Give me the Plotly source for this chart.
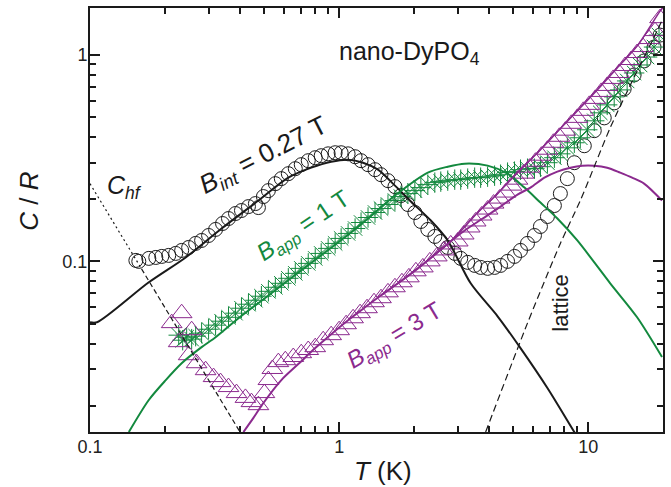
import numpy as np
import plotly.graph_objects as go

# ---------------- data ----------------
# open circles: B_int = 0.27 T
T_circ = [0.1528, 0.1570, 0.1722, 0.1837, 0.1941, 0.2070, 0.2208, 0.2333, 0.2489, 0.2655,
          0.2805, 0.2992, 0.3192, 0.3404, 0.3597, 0.3837, 0.4055, 0.4325, 0.4613, 0.4742,
          0.4966, 0.5200, 0.5546, 0.5861, 0.6252, 0.6668, 0.7047, 0.7516, 0.8017, 0.8472,
          0.9036, 0.9638, 1.0186, 1.0864, 1.1588, 1.2246, 1.3062, 1.3932, 1.4723, 1.5704,
          1.6749, 1.7701, 1.8880, 2.0137, 2.1281, 2.2699, 2.4210, 2.5586, 2.7290, 2.9107,
          3.0761, 3.2810, 3.4995, 3.6983, 3.9446, 4.2073, 4.4463, 4.7424, 5.0582, 5.3456,
          5.7016, 6.0814, 6.4269, 6.8549, 7.3114, 7.7268, 8.2414, 8.7902, 9.6383, 10.568,
          11.588, 12.706, 13.932, 15.276, 16.749, 18.365, 19.409]
C_circ = [0.1011, 0.1000, 0.1034, 0.1045, 0.1057, 0.1069, 0.1093, 0.1130, 0.1168, 0.1222,
          0.1263, 0.1335, 0.1428, 0.1526, 0.1613, 0.1706, 0.1764, 0.1843, 0.1906, 0.1823,
          0.2061, 0.2203, 0.2381, 0.2518, 0.2661, 0.2813, 0.2942, 0.3076, 0.3180, 0.3252,
          0.3320, 0.3361, 0.3361, 0.3320, 0.3215, 0.3076, 0.2942, 0.2782, 0.2631, 0.2462,
          0.2303, 0.2084, 0.1886, 0.1725, 0.1561, 0.1428, 0.1321, 0.1249, 0.1168, 0.1093,
          0.1034, 0.0989, 0.0956, 0.0935, 0.0925, 0.0935, 0.0956, 0.1000, 0.1057, 0.1130,
          0.1222, 0.1335, 0.1476, 0.1650, 0.1865, 0.2131, 0.2518, 0.3008, 0.3634, 0.4300,
          0.4960, 0.5862, 0.6850, 0.8006, 0.9360, 1.0930, 1.2490]

# stars: B_app = 1 T
T_star = [0.2270, 0.2355, 0.2443, 0.2559, 0.2655, 0.2805, 0.2992, 0.3192, 0.3373, 0.3597,
          0.3837, 0.4055, 0.4325, 0.4613, 0.4875, 0.5200, 0.5546, 0.5861, 0.6252, 0.6668,
          0.7047, 0.7516, 0.8017, 0.8472, 0.9036, 0.9638, 1.0186, 1.0864, 1.1588, 1.2246,
          1.3062, 1.3932, 1.4723, 1.5704, 1.6749, 1.7701, 1.8880, 2.0137, 2.1281, 2.2699,
          2.4210, 2.5586, 2.7290, 2.9107, 3.0761, 3.2810, 3.4995, 3.6983, 3.9446, 4.2073,
          4.4463, 4.7424, 5.0582, 5.3456, 5.7016, 6.0814, 6.4269, 6.8549, 7.3114, 7.7268,
          8.2414, 8.7902, 9.2897, 9.9083, 10.568, 11.169, 11.912, 12.706, 13.428, 14.322,
          15.276, 16.144, 17.219, 18.365, 19.230]
C_star = [0.0439, 0.0415, 0.0429, 0.0420, 0.0434, 0.0449, 0.0469, 0.0491, 0.0513, 0.0536,
          0.0561, 0.0593, 0.0620, 0.0648, 0.0678, 0.0716, 0.0749, 0.0783, 0.0828, 0.0875,
          0.0925, 0.0978, 0.1034, 0.1093, 0.1156, 0.1222, 0.1292, 0.1366, 0.1443, 0.1543,
          0.1632, 0.1725, 0.1803, 0.1886, 0.1971, 0.2061, 0.2131, 0.2203, 0.2278, 0.2355,
          0.2408, 0.2435, 0.2462, 0.2489, 0.2489, 0.2518, 0.2545, 0.2545, 0.2573, 0.2602,
          0.2631, 0.2692, 0.2722, 0.2782, 0.2813, 0.2813, 0.2876, 0.3008, 0.3180, 0.3320,
          0.3550, 0.3757, 0.3972, 0.4342, 0.4800, 0.5246, 0.5734, 0.6268, 0.6776, 0.7488,
          0.8185, 0.8949, 0.9780, 1.0930, 1.2490]

# open triangles: B_app = 3 T
T_tri = [0.2128, 0.2333, 0.2559, 0.2270, 0.2489, 0.2679, 0.2911, 0.3133, 0.3342, 0.3597,
         0.3873, 0.4207, 0.4446, 0.4742, 0.5012, 0.5200, 0.5395, 0.5702, 0.6081, 0.6546,
         0.7047, 0.7516, 0.8017, 0.8630, 0.9290, 1.0000, 1.0666, 1.1376, 1.2134, 1.2942,
         1.3804, 1.4723, 1.5704, 1.6749, 1.7865, 1.9055, 2.0324, 2.1677, 2.3121, 2.4660,
         2.6303, 2.8054, 2.9923, 3.1623, 3.3420, 3.5318, 3.7325, 3.9446, 4.1687, 4.4055,
         4.6559, 4.9204, 5.2000, 5.4954, 5.8076, 6.1376, 6.4863, 6.8549, 7.2444, 7.6560,
         8.0910, 8.5507, 9.0365, 9.5499, 10.093, 10.666, 11.272, 11.912, 12.589, 13.305,
         14.060, 14.859, 15.704, 16.596, 17.539, 18.535, 19.409]
C_tri = [0.0502, 0.0561, 0.0464, 0.0406, 0.0351, 0.0321, 0.0297, 0.0275, 0.0260, 0.0246,
         0.0230, 0.0218, 0.0208, 0.0201, 0.0230, 0.0266, 0.0301, 0.0325, 0.0332, 0.0344,
         0.0359, 0.0372, 0.0384, 0.0415, 0.0439, 0.0464, 0.0496, 0.0530, 0.0561, 0.0593,
         0.0634, 0.0663, 0.0708, 0.0749, 0.0792, 0.0837, 0.0895, 0.0935, 0.1000, 0.1057,
         0.1130, 0.1208, 0.1249, 0.1350, 0.1460, 0.1561, 0.1668, 0.1783, 0.1906, 0.2015,
         0.2155, 0.2329, 0.2489, 0.2661, 0.2845, 0.3041, 0.3252, 0.3476, 0.3757, 0.4016,
         0.4300, 0.4642, 0.4960, 0.5364, 0.5734, 0.6129, 0.6626, 0.7083, 0.7660, 0.8185,
         0.8849, 0.9459, 1.0226, 1.0930, 1.1950, 1.3060, 1.5090]

# model curves
T_fit_int = [0.1, 0.1067, 0.1722, 0.2421, 0.3373, 0.4742, 0.6252, 0.7727, 0.929, 1.0864,
             1.2474, 1.4322, 1.6749, 1.9409, 2.3335, 2.729, 3.3729, 4.3251, 5.3456, 6.8549,
             8.7902, 9.908]
C_fit_int = [0.0507, 0.0507, 0.0792, 0.1045, 0.1443, 0.1971, 0.2545, 0.2845, 0.3041, 0.3110,
             0.3008, 0.2782, 0.2329, 0.1950, 0.1578, 0.1263, 0.0783, 0.0542, 0.0380, 0.02435,
             0.0149, 0.01182]

T_fit_1T = [0.1432, 0.1722, 0.2014, 0.2333, 0.2805, 0.3192, 0.3945, 0.5346, 0.7311, 0.9908,
            1.2246, 1.6749, 2.2699, 2.729, 3.1915, 3.9446, 4.7424, 5.546, 6.4269, 7.5162,
            9.0365, 12.246, 15.704, 19.77]
C_fit_1T = [0.0149, 0.0213, 0.0266, 0.0321, 0.0384, 0.0429, 0.0530, 0.0701, 0.0935, 0.1235,
            0.1510, 0.2084, 0.2692, 0.2876, 0.2975, 0.2910, 0.2661, 0.2278, 0.1928, 0.1613,
            0.1263, 0.0783, 0.0536, 0.0344]

T_fit_3T = [0.4130, 0.4529, 0.4966, 0.5861, 0.6855, 0.8017, 0.929, 1.0864, 1.2706, 1.4723,
            1.7219, 2.0701, 2.5586, 3.1915, 3.767, 4.3251, 5.2, 5.8614, 6.6681, 7.5162,
            8.4723, 9.4624, 10.568, 11.912, 13.428, 14.997, 16.749, 19.77]
C_fit_3T = [0.0149, 0.01744, 0.0206, 0.0266, 0.0318, 0.0380, 0.0444, 0.0519, 0.0599, 0.0685,
            0.0783, 0.0925, 0.1143, 0.1412, 0.1613, 0.1803, 0.2107, 0.2278, 0.2545, 0.2722,
            0.2845, 0.2910, 0.2910, 0.2845, 0.2692, 0.2545, 0.2381, 0.1971]

T_tot_3T = [1.4723, 1.7219, 2.0701, 2.4889, 2.9923, 3.5975, 4.3251, 5.2, 6.2517, 7.5162,
            9.0365, 10.864, 13.062, 15.704, 19.409, 20.14]
C_tot_3T = [0.0685, 0.0783, 0.0925, 0.1105, 0.1350, 0.1725, 0.2131, 0.2692, 0.3361, 0.4246,
            0.5364, 0.6776, 0.8660, 1.1050, 1.6320, 1.7250]

T_lat = [3.873, 5.7016, 7.7268, 9.2897, 12.246, 15.704, 18.88, 19.95]
C_lat = [0.0149, 0.0502, 0.1222, 0.1971, 0.444, 0.837, 1.306, 1.509]

T_hf_dot = [0.1, 0.161]
C_hf_dot = [0.238, 0.092]
T_hf_dash = [0.161, 0.4]
C_hf_dash = [0.092, 0.0149]

x_ticks = [0.1, 1, 10]
x_ticktext = ["0.1", "1", "10"]
y_ticks = [0.1, 1]
y_ticktext = ["0.1", "1"]

# ---------------- styling ----------------
BLACK = "#1a1a1a"
GREEN = "#13893e"
PURPLE = "#8b2a8e"
FONT = "Liberation Sans, Arial, sans-serif"

fig = go.Figure()

fig.add_trace(go.Scatter(x=T_circ, y=C_circ, mode="markers",
                         marker=dict(symbol="circle-open", size=14, color=BLACK, line=dict(width=1))))
fig.add_trace(go.Scatter(x=T_star, y=C_star, mode="markers",
                         marker=dict(symbol="asterisk-open", size=17, color=GREEN, line=dict(width=1, color=GREEN))))
fig.add_trace(go.Scatter(x=T_tri, y=C_tri, mode="markers",
                         marker=dict(symbol="triangle-up-open", size=18, color=PURPLE, line=dict(width=1))))

fig.add_trace(go.Scatter(x=T_fit_int, y=C_fit_int, mode="lines",
                         line=dict(color=BLACK, width=2, shape="spline", smoothing=0.8)))
fig.add_trace(go.Scatter(x=T_fit_1T, y=C_fit_1T, mode="lines",
                         line=dict(color=GREEN, width=2, shape="spline", smoothing=0.8)))
fig.add_trace(go.Scatter(x=T_fit_3T, y=C_fit_3T, mode="lines",
                         line=dict(color=PURPLE, width=2, shape="spline", smoothing=0.8)))
fig.add_trace(go.Scatter(x=T_tot_3T, y=C_tot_3T, mode="lines",
                         line=dict(color=PURPLE, width=1.6, shape="spline", smoothing=0.8)))
fig.add_trace(go.Scatter(x=T_lat, y=C_lat, mode="lines",
                         line=dict(color=BLACK, width=1.2, dash="7px,4px", shape="spline", smoothing=0.6)))
fig.add_trace(go.Scatter(x=T_hf_dot, y=C_hf_dot, mode="lines",
                         line=dict(color=BLACK, width=1.2, dash="2px,3px")))
fig.add_trace(go.Scatter(x=T_hf_dash, y=C_hf_dash, mode="lines",
                         line=dict(color=BLACK, width=1.2, dash="5px,3px")))

L, R, TOP, BOT = 90, 665, 7, 432
W, H = R - L, BOT - TOP
def pxx(x):
    return (x - L) / W
def pxy(y):
    return (BOT - y) / H

ann = []
def add(text, x, y, size, color=BLACK, angle=0, xanchor="center", yanchor="middle"):
    ann.append(dict(text=text, x=pxx(x), y=pxy(y), xref="paper", yref="paper",
                    showarrow=False, textangle=angle, xanchor=xanchor, yanchor=yanchor,
                    font=dict(family=FONT, size=size, color=color)))

add("nano-DyPO<sub>4</sub>", 338, 52, 25, xanchor="left")
add("<i>C</i> / <i>R</i>", 28, 201, 26, angle=-90)
add("<i>T</i> (K)", 384, 471, 26)
add("<i>B</i><sub><i>int</i></sub> = 0.27 T", 265, 155, 26, angle=-27)
add("<i>B</i><sub><i>app</i></sub> = 1 T", 305, 226, 24, color=GREEN, angle=-34)
add("<i>B</i><sub><i>app</i></sub> = 3 T", 396, 336, 24, color=PURPLE, angle=-31)
add("lattice", 562, 303, 22, angle=-90)
add("<i>C<sub>hf</sub></i>", 125, 186, 25)

axis_common = dict(type="log", showgrid=False, zeroline=False, showline=True, linecolor=BLACK,
                   linewidth=2, mirror="ticks", ticks="inside", ticklen=10, tickwidth=1.5,
                   tickcolor=BLACK, ticklabelstandoff=-3,
                   tickfont=dict(family=FONT, size=18, color="#222"))

fig.update_layout(
    width=671, height=487,
    margin=dict(l=L, r=671 - R, t=TOP, b=487 - BOT),
    paper_bgcolor="white", plot_bgcolor="white",
    showlegend=False,
    annotations=ann,
    xaxis=dict(range=[-1, np.log10(19.95)], tickvals=x_ticks, ticktext=x_ticktext,
               minor=dict(ticks="inside", ticklen=6, tickwidth=1.5, tickcolor=BLACK,
                          tickmode="array",
                          tickvals=[0.2, 0.3, 0.4, 0.5, 0.6, 0.7, 0.8, 0.9,
                                    2, 3, 4, 5, 6, 7, 8, 9]),
               **axis_common),
    yaxis=dict(range=[np.log10(0.0149), np.log10(1.69)], tickvals=y_ticks, ticktext=y_ticktext,
               minor=dict(ticks="inside", ticklen=6, tickwidth=1.5, tickcolor=BLACK,
                          tickmode="array",
                          tickvals=[0.02, 0.03, 0.04, 0.05, 0.06, 0.07, 0.08, 0.09,
                                    0.2, 0.3, 0.4, 0.5, 0.6, 0.7, 0.8, 0.9]),
               **axis_common),
)

fig.write_html("out.html")
